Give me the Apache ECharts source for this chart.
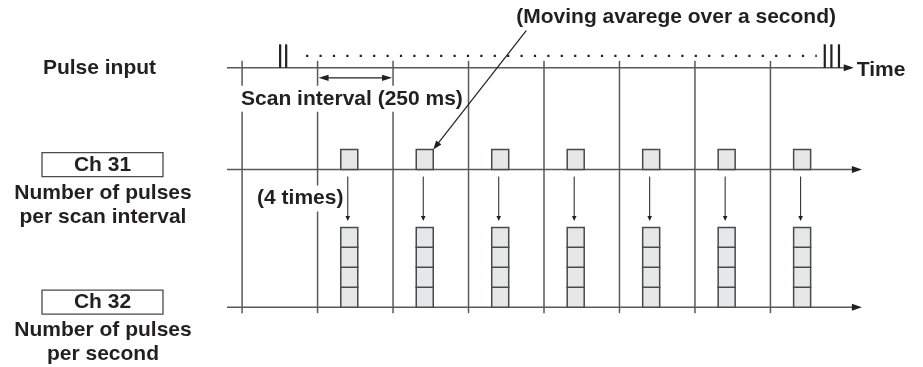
<!DOCTYPE html>
<html><head><meta charset="utf-8">
<script src="https://cdn.jsdelivr.net/npm/echarts@6/dist/echarts.min.js"></script>
<style>html,body{margin:0;padding:0;background:#fff}#c{width:923px;height:367px}</style>
</head><body><div id="c"></div>
<script>
// ---- data (time in ms, levels in box units) ----
const scanTimes = [0, 250, 500, 750, 1000, 1250, 1500, 1750];
const sampleTimes = [355, 605, 855, 1105, 1355, 1605, 1855];
const ch31Counts = [1, 1, 1, 1, 1, 1, 1];
const ch32Counts = [4, 4, 4, 4, 4, 4, 4];
const firstPulses = [126, 146];
const lastPulses = [1930, 1952, 1977];
const pulseDotSpan = [212, 1897];
const scanSpan = [250, 500];
const rowNames = ['Pulse input', 'Ch 31', 'Ch 32'];
const rowNotes = [[], ['Number of pulses', 'per scan interval'], ['Number of pulses', 'per second']];
const rowLevels = [12, 6.9, 0];
const axisEnds = [2026, 2053, 2053];
const axisStart = -50;
const scanLabel = 'Scan interval (250 ms)';
const countLabel = '(4 times)';
const avgLabel = '(Moving avarege over a second)';
const timeLabel = 'Time';

// ---- styles ----
const FONT = 'bold 21px "Liberation Sans", Arial, Helvetica, sans-serif';
const INK = '#231f20';
const LINE = '#58595b';
const BOX = '#4a4a4a';
const FILL = '#e6e7e8';

function seg(a, b, w, color, extra) {
  return {type: 'line', shape: {x1: a[0], y1: a[1], x2: b[0], y2: b[1]},
    style: Object.assign({stroke: color, lineWidth: w}, extra || {})};
}
function head(tip, from, len, half, color) {
  const dx = tip[0] - from[0], dy = tip[1] - from[1];
  const d = Math.hypot(dx, dy), ux = dx / d, uy = dy / d;
  const bx = tip[0] - ux * len, by = tip[1] - uy * len;
  return {type: 'polygon', shape: {points: [tip, [bx - uy * half, by + ux * half], [bx + uy * half, by - ux * half]]},
    style: {fill: color}};
}
function txt(s, x, y, align, bg) {
  const st = {text: s, x: x, y: y, font: FONT, fill: INK, align: align, verticalAlign: 'middle', lineHeight: 21};
  if (bg) { st.backgroundColor = '#fff'; st.padding = [3, 3, 2, 3]; }
  return {type: 'text', style: st};
}
function custom(data, render, z) {
  return {type: 'custom', coordinateSystem: 'cartesian2d', data: data, renderItem: render, clip: false, silent: true, z: z || 2};
}

const option = {
  animation: false,
  backgroundColor: '#fff',
  grid: {left: 227, right: 62, top: 8, height: 360},
  xAxis: {type: 'value', min: -50, max: 2050, show: false},
  yAxis: {type: 'value', min: -3, max: 15, show: false},
  series: [
    // vertical scan-interval lines
    custom(scanTimes.map(t => [t]), function (p, api) {
      const t = api.value(0);
      const top = api.coord([t, rowLevels[0]])[1] - 7;
      const bot = api.coord([t, rowLevels[2]])[1] + 6;
      const x = api.coord([t, 0])[0];
      return seg([x, top], [x, bot], 1.5, LINE);
    }, 1),
    // time axes with arrows
    custom(rowLevels.map((y, i) => [axisStart, y, axisEnds[i]]), function (p, api) {
      const a = api.coord([api.value(0), api.value(1)]);
      const b = api.coord([api.value(2), api.value(1)]);
      return {type: 'group', children: [
        seg(a, [b[0] - 8, b[1]], 1.5, LINE),
        head(b, a, 10, 3.5, INK)
      ]};
    }, 2),
    // pulse bars
    custom(firstPulses.concat(lastPulses).map(t => [t]), function (p, api) {
      const b = api.coord([api.value(0), rowLevels[0]]);
      return seg([b[0], b[1]], [b[0], b[1] - 23.5], 2.2, INK);
    }, 3),
    // dotted continuation of pulses
    custom([pulseDotSpan], function (p, api) {
      const a = api.coord([api.value(0), rowLevels[0]]);
      const b = api.coord([api.value(1), rowLevels[0]]);
      return seg([a[0], a[1] - 12], [b[0] + 2, b[1] - 12], 2.2, INK, {lineDash: [2.2, 11.2]});
    }, 3),
    // scan interval double arrow
    custom([scanSpan], function (p, api) {
      const a = api.coord([api.value(0), rowLevels[0]]);
      const b = api.coord([api.value(1), rowLevels[0]]);
      const y = a[1] + 10;
      return {type: 'group', children: [
        seg([a[0] + 6, y], [b[0] - 6, y], 1.3, INK),
        head([a[0] + 1, y], [b[0], y], 10, 3.2, INK),
        head([b[0] - 1, y], [a[0], y], 10, 3.2, INK)
      ]};
    }, 3),
    // Ch 31 boxes
    custom(sampleTimes.map((t, i) => [t, ch31Counts[i]]), function (p, api) {
      const t = api.value(0), n = api.value(1);
      const unit = api.size([0, 1])[1];
      const kids = [];
      for (let k = 0; k < n; k++) {
        const tl = api.coord([t, rowLevels[1] + k + 1]);
        kids.push({type: 'rect', shape: {x: tl[0] - 8.5, y: tl[1], width: 17, height: unit},
          style: {fill: FILL, stroke: BOX, lineWidth: 1.5}});
      }
      return {type: 'group', children: kids};
    }, 4),
    // Ch 32 stacks
    custom(sampleTimes.map((t, i) => [t, ch32Counts[i]]), function (p, api) {
      const t = api.value(0), n = api.value(1);
      const unit = api.size([0, 1])[1];
      const kids = [];
      for (let k = 0; k < n; k++) {
        const tl = api.coord([t, rowLevels[2] + k + 1]);
        kids.push({type: 'rect', shape: {x: tl[0] - 8.5, y: tl[1], width: 17, height: unit},
          style: {fill: FILL, stroke: BOX, lineWidth: 1.5}});
      }
      return {type: 'group', children: kids};
    }, 4),
    // transfer arrows Ch31 -> Ch32
    custom(sampleTimes.map((t, i) => [t, ch32Counts[i]]), function (p, api) {
      const t = api.value(0), n = api.value(1);
      const a = api.coord([t, rowLevels[1]]);
      const b = api.coord([t, rowLevels[2] + n]);
      const x = a[0] - 1.5;
      return {type: 'group', children: [
        seg([x, a[1] + 7], [x, b[1] - 9], 1, INK),
        head([x, b[1] - 6.5], [x, a[1]], 5, 2.3, INK)
      ]};
    }, 4),
    // annotations
    custom([[0]], function (p, api) {
      const base = api.coord([scanTimes[0], rowLevels[0]]);
      const mid = api.coord([scanTimes[0], rowLevels[1]]);
      const box = api.coord([sampleTimes[1], rowLevels[1] + ch31Counts[1]]);
      const tip = [box[0] + 8.5, box[1]];
      const start = [tip[0] + 93, tip[1] - 119];
      const tEnd = api.coord([axisEnds[0], rowLevels[0]]);
      return {type: 'group', children: [
        txt(scanLabel, base[0] - 4, base[1] + 31, 'left', true),
        txt(countLabel, base[0] + 12, mid[1] + 29, 'left', true),
        seg(start, [tip[0] + 4, tip[1] - 5.2], 1.2, INK),
        head(tip, start, 9, 3.3, INK),
        txt(avgLabel, tip[0] + 83, tip[1] - 132, 'left', false),
        txt(timeLabel, tEnd[0] + 3, tEnd[1] + 2, 'left', false)
      ]};
    }, 6),
    // row labels on the left
    custom(rowLevels.map((y, i) => [axisStart, y, i]), function (p, api) {
      const i = api.value(2);
      const a = api.coord([api.value(0), api.value(1)]);
      const cx = a[0] - 124.5;
      const kids = [];
      if (rowNotes[i].length === 0) {
        kids.push(txt(rowNames[i], cx - 3, a[1], 'center', false));
      } else {
        kids.push({type: 'rect', shape: {x: cx - 60.5, y: a[1] - 17, width: 121, height: 24},
          style: {fill: '#fff', stroke: BOX, lineWidth: 1.3}});
        kids.push(txt(rowNames[i], cx, a[1] - 4.5, 'center', false));
        rowNotes[i].forEach(function (s, k) {
          kids.push(txt(s, cx + 0.5, a[1] + 23.5 + 24 * k, 'center', false));
        });
      }
      return {type: 'group', children: kids};
    }, 6)
  ]
};
const chart = echarts.init(document.getElementById('c'));
chart.setOption(option);
</script>
</body></html>
